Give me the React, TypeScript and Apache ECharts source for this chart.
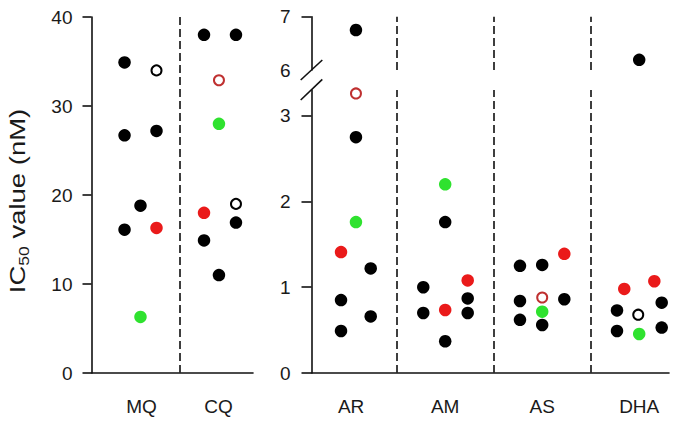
import React, { useEffect, useRef } from "react";
import * as echarts from "echarts";

const leftCategories = ["MQ", "CQ"];
const rightCategories = ["AR", "AM", "AS", "DHA"];
const leftTicks = [0, 10, 20, 30, 40];
const lowerRightTicks = [0, 1, 2, 3];
const upperRightLabels = [6, 7];
const upperRightTicks = [7];

// [category, horizontal offset inside the category (in category widths), IC50 (nM)]
type Pt = [string, number, number];

const blackFilled: Pt[] = [
  ["MQ", -0.22, 34.9], ["MQ", -0.22, 26.7], ["MQ", 0.195, 27.2], ["MQ", -0.013, 18.8], ["MQ", -0.22, 16.1],
  ["CQ", -0.188, 38.0], ["CQ", 0.227, 38.0], ["CQ", 0.227, 16.9], ["CQ", -0.188, 14.9], ["CQ", 0.006, 11.0],
  ["AR", 0.08, 6.75], ["AR", 0.08, 2.75], ["AR", 0.232, 1.22], ["AR", -0.074, 0.85], ["AR", 0.232, 0.66], ["AR", -0.074, 0.49],
  ["AM", 0, 1.76], ["AM", -0.226, 1.0], ["AM", 0.232, 0.87], ["AM", -0.226, 0.7], ["AM", 0.232, 0.7], ["AM", 0, 0.37],
  ["AS", -0.229, 1.25], ["AS", 0, 1.26], ["AS", -0.229, 0.84], ["AS", 0.228, 0.86], ["AS", -0.229, 0.62], ["AS", 0, 0.56],
  ["DHA", 0, 6.19], ["DHA", 0.232, 0.82], ["DHA", -0.229, 0.73], ["DHA", -0.229, 0.49], ["DHA", 0.232, 0.53],
];
const redFilled: Pt[] = [
  ["MQ", 0.195, 16.3], ["CQ", -0.188, 18.0], ["AR", -0.074, 1.41], ["AM", 0.232, 1.08],
  ["AM", 0, 0.735], ["AS", 0.228, 1.39], ["DHA", -0.154, 0.98], ["DHA", 0.156, 1.07],
];
const greenFilled: Pt[] = [
  ["MQ", -0.013, 6.3], ["CQ", 0.006, 28.0], ["AR", 0.08, 1.76], ["AM", 0, 2.2], ["AS", 0, 0.715], ["DHA", 0, 0.455],
];
const blackOpen: Pt[] = [["MQ", 0.195, 34.0], ["CQ", 0.227, 19.0], ["DHA", -0.01, 0.68]];
const redOpen: Pt[] = [["CQ", 0.006, 32.9], ["AR", 0.08, 3.26], ["AS", 0, 0.88]];

const BREAK_AT = 5;
const FONT = "'Liberation Sans', Arial, sans-serif";
const TEXT = "#1a1a1a";
const AX = { color: "#111", width: 1.6 };

const kinds = [
  { pts: blackFilled, size: 12.5, style: { color: "#000" } },
  { pts: redFilled, size: 12.5, style: { color: "#ea1a1a" } },
  { pts: greenFilled, size: 12.5, style: { color: "#2fe22f" } },
  { pts: blackOpen, size: 10, style: { color: "#fff", borderColor: "#000", borderWidth: 2 } },
  { pts: redOpen, size: 10, style: { color: "#fff", borderColor: "#bf3030", borderWidth: 2 } },
];

const panels = [
  { cats: leftCategories, keep: (v: number) => true, dividers: [0.5] },
  { cats: rightCategories, keep: (v: number) => v > BREAK_AT, dividers: [0.5, 1.5, 2.5] },
  { cats: rightCategories, keep: (v: number) => v <= BREAK_AT, dividers: [0.5, 1.5, 2.5] },
];

function buildSeries() {
  const series: any[] = [];
  panels.forEach((p, gi) => {
    kinds.forEach((k, ki) => {
      const data = k.pts
        .filter(([c, , v]) => p.cats.includes(c) && p.keep(v))
        .map(([c, dx, v]) => [p.cats.indexOf(c) + dx, v]);
      const s: any = {
        type: "scatter",
        xAxisIndex: gi,
        yAxisIndex: gi,
        symbol: "circle",
        symbolSize: k.size,
        itemStyle: { ...k.style, opacity: 1 },
        data,
        z: 3,
      };
      if (ki === 0) {
        s.markLine = {
          silent: true,
          symbol: ["none", "none"],
          label: { show: false },
          lineStyle: { color: "#2a2a2a", type: [8, 4], width: 1.8 },
          data: p.dividers.map((d) => ({ xAxis: d })),
          z: 1,
        };
      }
      series.push(s);
    });
  });
  return series;
}

const labelStyle = { fontFamily: FONT, fontSize: 19, color: TEXT };

export default function App() {
  const ref = useRef<HTMLDivElement>(null);
  useEffect(() => {
    if (!ref.current) return;
    const chart = echarts.init(ref.current, null, { renderer: "svg" });
    const rMin = (311.5 - 348.2) / 97;
    const rMax = (669 - 348.2) / 97;
    chart.setOption({
      animation: false,
      backgroundColor: "#fff",
      grid: [
        { left: 91.5, top: 17, width: 161.5, height: 356, outerBoundsMode: "none" },
        { left: 311.5, top: 16.7, width: 357.5, height: 53.3, outerBoundsMode: "none" },
        { left: 311.5, top: 90, width: 357.5, height: 283, outerBoundsMode: "none" },
      ],
      xAxis: [
        {
          gridIndex: 0, type: "value", min: -0.649, max: 1.448,
          axisLine: { show: true, onZero: false, lineStyle: AX },
          axisTick: { show: false }, splitLine: { show: false },
          axisLabel: { ...labelStyle, margin: 24, customValues: [0, 1], formatter: (v: number) => leftCategories[Math.round(v)] ?? "" },
        },
        { gridIndex: 1, type: "value", min: rMin, max: rMax, show: false, splitLine: { show: false } },
        {
          gridIndex: 2, type: "value", min: rMin, max: rMax,
          axisLine: { show: true, onZero: false, lineStyle: AX },
          axisTick: { show: false }, splitLine: { show: false },
          axisLabel: { ...labelStyle, margin: 24, customValues: [0.03, 1, 2, 3], formatter: (v: number) => rightCategories[Math.round(v)] ?? "" },
        },
      ],
      yAxis: [
        {
          gridIndex: 0, type: "value", min: leftTicks[0], max: leftTicks[leftTicks.length - 1], interval: 10,
          axisLine: { show: true, onZero: false, lineStyle: AX },
          axisTick: { show: true, length: 9, lineStyle: AX, customValues: leftTicks },
          axisLabel: { ...labelStyle, margin: 19, customValues: leftTicks },
          splitLine: { show: false },
        },
        {
          gridIndex: 1, type: "value", min: 6, max: 7,
          axisLine: { show: true, onZero: false, lineStyle: AX },
          axisTick: { show: true, length: 10, lineStyle: AX, customValues: upperRightTicks },
          axisLabel: { ...labelStyle, margin: 21, customValues: upperRightLabels },
          splitLine: { show: false },
        },
        {
          gridIndex: 2, type: "value", min: 0, max: 3.3,
          axisLine: { show: true, onZero: false, lineStyle: AX },
          axisTick: { show: true, length: 10, lineStyle: AX, customValues: lowerRightTicks },
          axisLabel: { ...labelStyle, margin: 21, customValues: lowerRightTicks },
          splitLine: { show: false },
        },
      ],
      graphic: [
        {
          type: "line", silent: true,
          shape: { x1: 300.7, y1: 80, x2: 322.3, y2: 60 },
          style: { stroke: "#111", lineWidth: 1.6 },
        },
        {
          type: "line", silent: true,
          shape: { x1: 300.7, y1: 100, x2: 322.3, y2: 79.3 },
          style: { stroke: "#111", lineWidth: 1.6 },
        },
        {
          type: "text", silent: true,
          x: 17, y: 201, rotation: Math.PI / 2, scaleX: 1.25, scaleY: 1,
          style: {
            text: "{a|IC}{b|50}{a| value (nM)}",
            align: "center", verticalAlign: "middle", fill: TEXT,
            rich: {
              a: { fontFamily: FONT, fontSize: 22, lineHeight: 28, fill: TEXT, verticalAlign: "middle" },
              b: { fontFamily: FONT, fontSize: 14, lineHeight: 14, fill: TEXT, verticalAlign: "bottom" },
            },
          },
        },
      ],
      series: buildSeries(),
    });
    return () => chart.dispose();
  }, []);
  return <div ref={ref} style={{ position: "absolute", left: 0, top: 0, width: 685, height: 422 }} />;
}
